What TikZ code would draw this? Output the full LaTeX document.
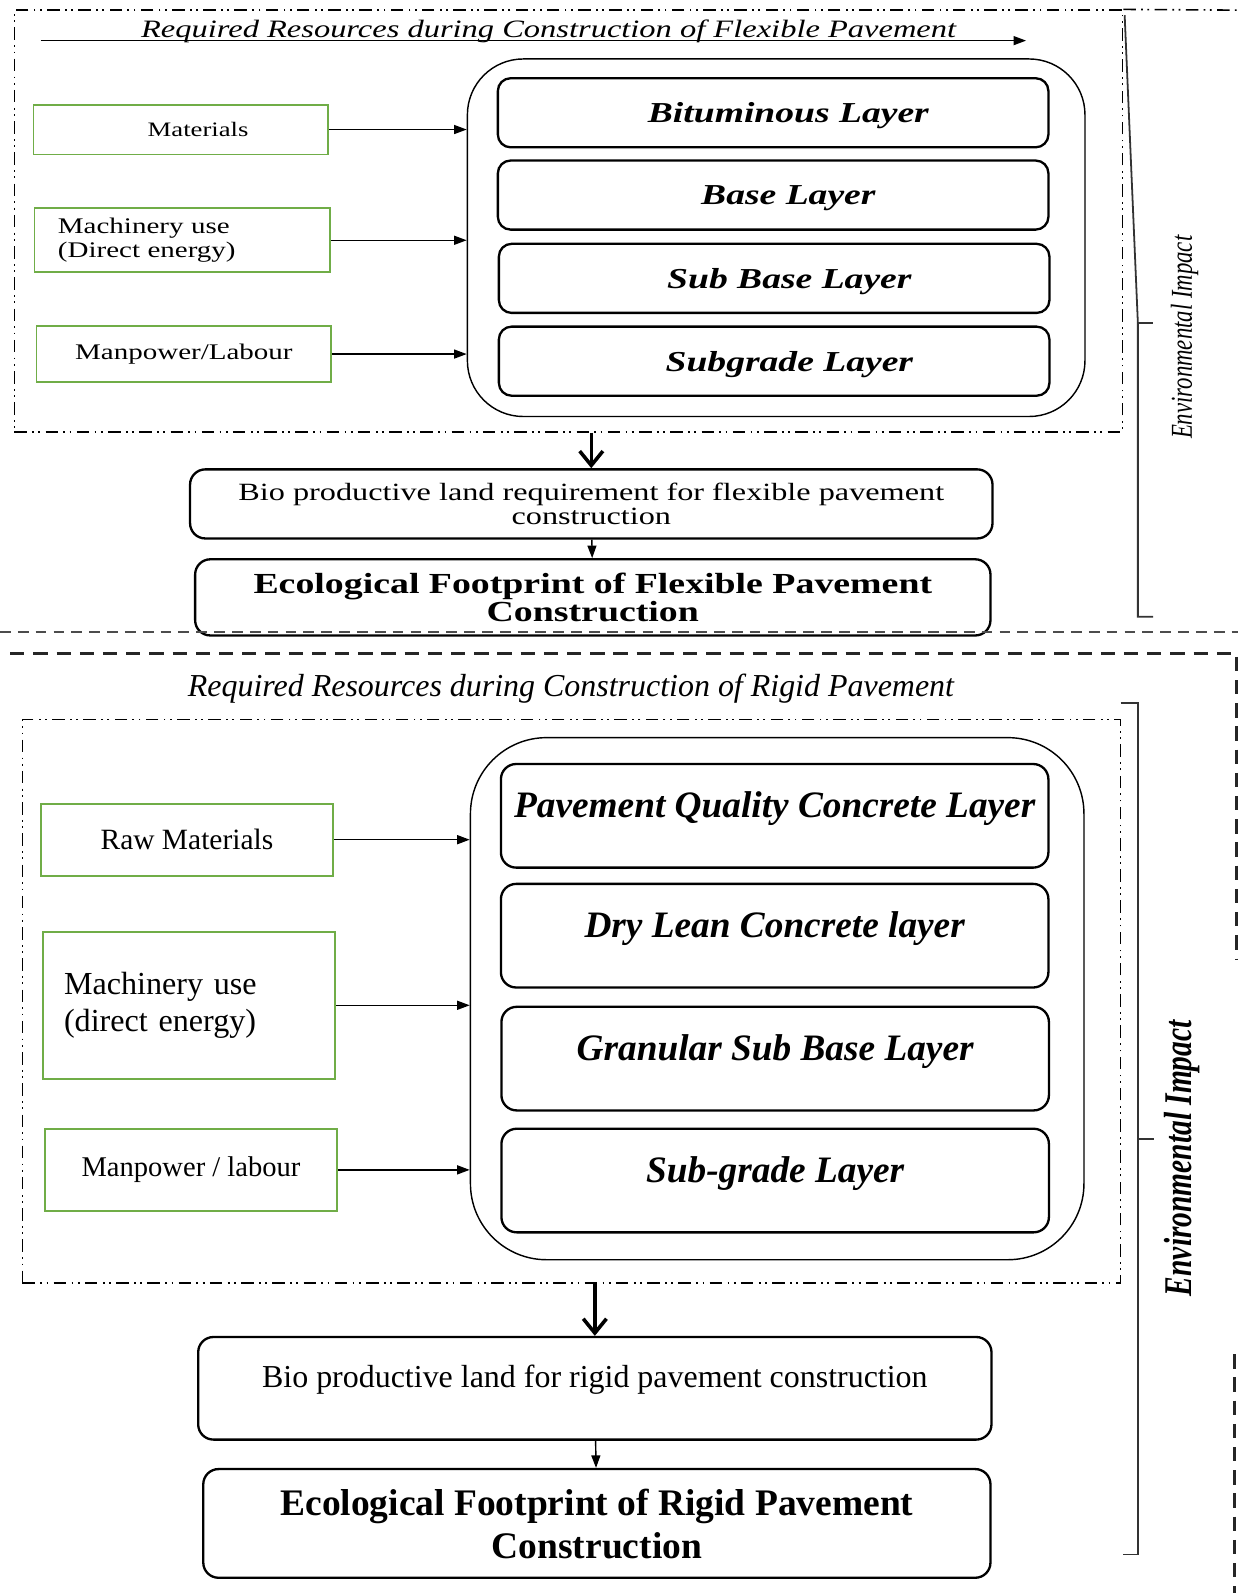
\documentclass[tikz,border=0pt]{standalone}
\usepackage{fontspec}
\setmainfont{Liberation Serif}
\newfontfamily\widefont[FakeStretch=1.3]{Liberation Serif}
\newfontfamily\slimfont[FakeStretch=0.75]{Liberation Serif}
\usetikzlibrary{arrows.meta, calc}
\definecolor{boxgreen}{RGB}{112,173,71}

\begin{document}
\begin{tikzpicture}[
  x=0.02cm, y=-0.02cm,
  >={Triangle[length=7pt, width=5pt]},
  inbox/.style={draw=boxgreen, line width=1pt, align=center, inner sep=0pt},
  holder/.style={draw, line width=0.8pt, inner sep=0pt},
  flexlayer/.style={draw, line width=1.3pt, rounded corners=0.25cm, inner sep=0pt, minimum width=10.84cm, minimum height=1.36cm, text depth=0pt, execute at begin node=\hspace*{0.6cm}, font=\widefont\bfseries\itshape\fontsize{16.2}{19}\selectfont},
  rigidlayer/.style={draw, line width=1.3pt, rounded corners=0.3cm, inner sep=0pt, minimum width=10.78cm, text height=1.06cm, text depth=0.98cm, font=\bfseries\itshape\fontsize{20.9}{24}\selectfont},
  outbox/.style={draw, line width=1.3pt, rounded corners=0.3cm, align=center, inner sep=0pt},
  framedd/.style={draw, line width=0.9pt, dash pattern=on 7pt off 3pt on 1pt off 2.5pt on 1pt off 3pt},
  bigarrow/.style={line width=2pt, -{Straight Barb[length=8pt, width=13pt]}},
  bracket/.style={line width=1pt, black!80}
]
\useasboundingbox (0,0) rectangle (1219,1568);

% Flexible pavement
\node[framedd, minimum width=21.82cm, minimum height=8.3cm] (frame1) at (559.5,217.5) {};
\coordinate (edge1) at (1219,10);
\draw[framedd] (frame1.north east) -- (edge1);

\node[font=\widefont\itshape\fontsize{14}{16}\selectfont] (title1) at (540,31) {Required Resources during Construction of Flexible Pavement};
\coordinate (tl) at (40,40);
\coordinate (tr) at (1010,40);
\draw[->, line width=0.8pt] (tl) -- (tr);

\node[inbox, minimum width=5.8cm, minimum height=0.98cm, execute at begin node=\hspace*{0.68cm}, font=\widefont\fontsize{11.5}{13}\selectfont] (mat) at (178,127.5) {Materials};
\node[inbox, minimum width=5.82cm, minimum height=1.26cm, text width=4.9cm, align=left, font=\widefont\fontsize{12.5}{13.7}\selectfont] (mach) at (179.5,236.5) {Machinery use\\(Direct energy)};
\node[inbox, minimum width=5.8cm, minimum height=1.1cm, font=\widefont\fontsize{12.5}{14}\selectfont] (man) at (181,348.5) {Manpower/Labour};

\node[holder, rounded corners=1.1cm, minimum width=12.16cm, minimum height=7.04cm] (cont) at (764,234) {};
\node[flexlayer] (bit) at (761,111) {Bituminous Layer};
\node[flexlayer] (base) at (761,192) {Base Layer};
\node[flexlayer] (sbase) at (762,274) {Sub Base Layer};
\node[flexlayer] (subg) at (762,355.5) {Subgrade Layer};

\draw[->, line width=0.8pt] (mat) -- (mat -| cont.west);
\draw[->, line width=0.8pt] (mach) -- (mach -| cont.west);
\draw[->, line width=0.8pt] (man) -- (man -| cont.west);

\node[outbox, minimum width=15.8cm, minimum height=1.36cm, font=\widefont\fontsize{13.9}{13.7}\selectfont] (bio1) at (582,496) {Bio productive land requirement for flexible pavement\\construction};
\node[outbox, minimum width=15.66cm, minimum height=1.5cm, text depth=0pt, font=\widefont\bfseries\fontsize{16.3}{16}\selectfont] (eco1) at (583.5,588) {Ecological Footprint of Flexible Pavement\\Construction};

\draw[bigarrow] (frame1.south -| bio1.north) -- (bio1.north);
\draw[->, line width=0.8pt] (bio1) -- (eco1);

% bracket (flexible)
\draw[bracket] (1107,15) -- (1120,318) -- (1120,607) -- (1135,607);
\draw[bracket] (1120,318) -- (1135,318);
\node[rotate=90, font=\slimfont\itshape\fontsize{17}{20}\selectfont] (env1) at (1166,332) {Environmental Impact};

\draw[line width=0.8pt, black!70, dash pattern=on 6pt off 4pt] (0,622) -- (1219,622);

% Rigid pavement
\draw[line width=1.4pt, black!85, dash pattern=on 8pt off 5pt] (10,643) -- (1217,643) -- (1217,945);
\draw[line width=1.4pt, black!85, dash pattern=on 8pt off 5pt] (1215,1333) -- (1215,1568);

\node[font=\itshape\fontsize{17.9}{20}\selectfont] (title2) at (562,678) {Required Resources during Construction of Rigid Pavement};
\node[framedd, minimum width=21.62cm, minimum height=11.1cm] (frame2) at (562.5,985.5) {};

\node[inbox, minimum width=5.76cm, minimum height=1.42cm, font=\fontsize{16.5}{19}\selectfont] (raw) at (184,826.5) {Raw Materials};
\node[inbox, minimum width=5.76cm, minimum height=2.9cm, text width=4.92cm, align=left, font=\fontsize{18}{21}\selectfont] (mach2) at (186,989.5) {Machinery use\\(direct energy)};
\node[inbox, minimum width=5.76cm, minimum height=1.62cm, font=\fontsize{16}{19}\selectfont] (man2) at (188,1151.5) {Manpower / labour};

\node[holder, rounded corners=1.5cm, minimum width=12.08cm, minimum height=10.28cm] (cont2) at (765,983) {};
\node[rigidlayer] (pqc) at (762.5,803) {Pavement Quality Concrete Layer};
\node[rigidlayer] (dlc) at (762.5,921) {Dry Lean Concrete layer};
\node[rigidlayer] (gsb) at (763,1042) {Granular Sub Base Layer};
\node[rigidlayer] (sg) at (763,1162) {Sub-grade Layer};

\draw[->, line width=0.8pt] (raw) -- (raw -| cont2.west);
\draw[->, line width=0.8pt] (mach2) -- (mach2 -| cont2.west);
\draw[->, line width=0.8pt] (man2) -- (man2 -| cont2.west);

\node[outbox, minimum width=15.62cm, text height=1.0cm, text depth=1.02cm, font=\fontsize{17.9}{20}\selectfont] (bio2) at (585.5,1366.5) {Bio productive land for rigid pavement construction};
\node[outbox, minimum width=15.5cm, minimum height=2.14cm, text depth=0pt, font=\bfseries\fontsize{21}{24}\selectfont] (eco2) at (587.5,1499.5) {Ecological Footprint of Rigid Pavement\\Construction};

\draw[bigarrow] (frame2.south -| bio2.north) -- (bio2.north);
\draw[->, line width=0.8pt] (bio2) -- (eco2);

% bracket (rigid)
\draw[bracket] (1103,692) -- (1120,692) -- (1120,1530) -- (1105,1530);
\draw[bracket] (1120,1121) -- (1136,1121);
\node[rotate=90, font=\slimfont\bfseries\itshape\fontsize{22}{26}\selectfont] (env2) at (1163,1140) {Environmental Impact};

\end{tikzpicture}
\end{document}
